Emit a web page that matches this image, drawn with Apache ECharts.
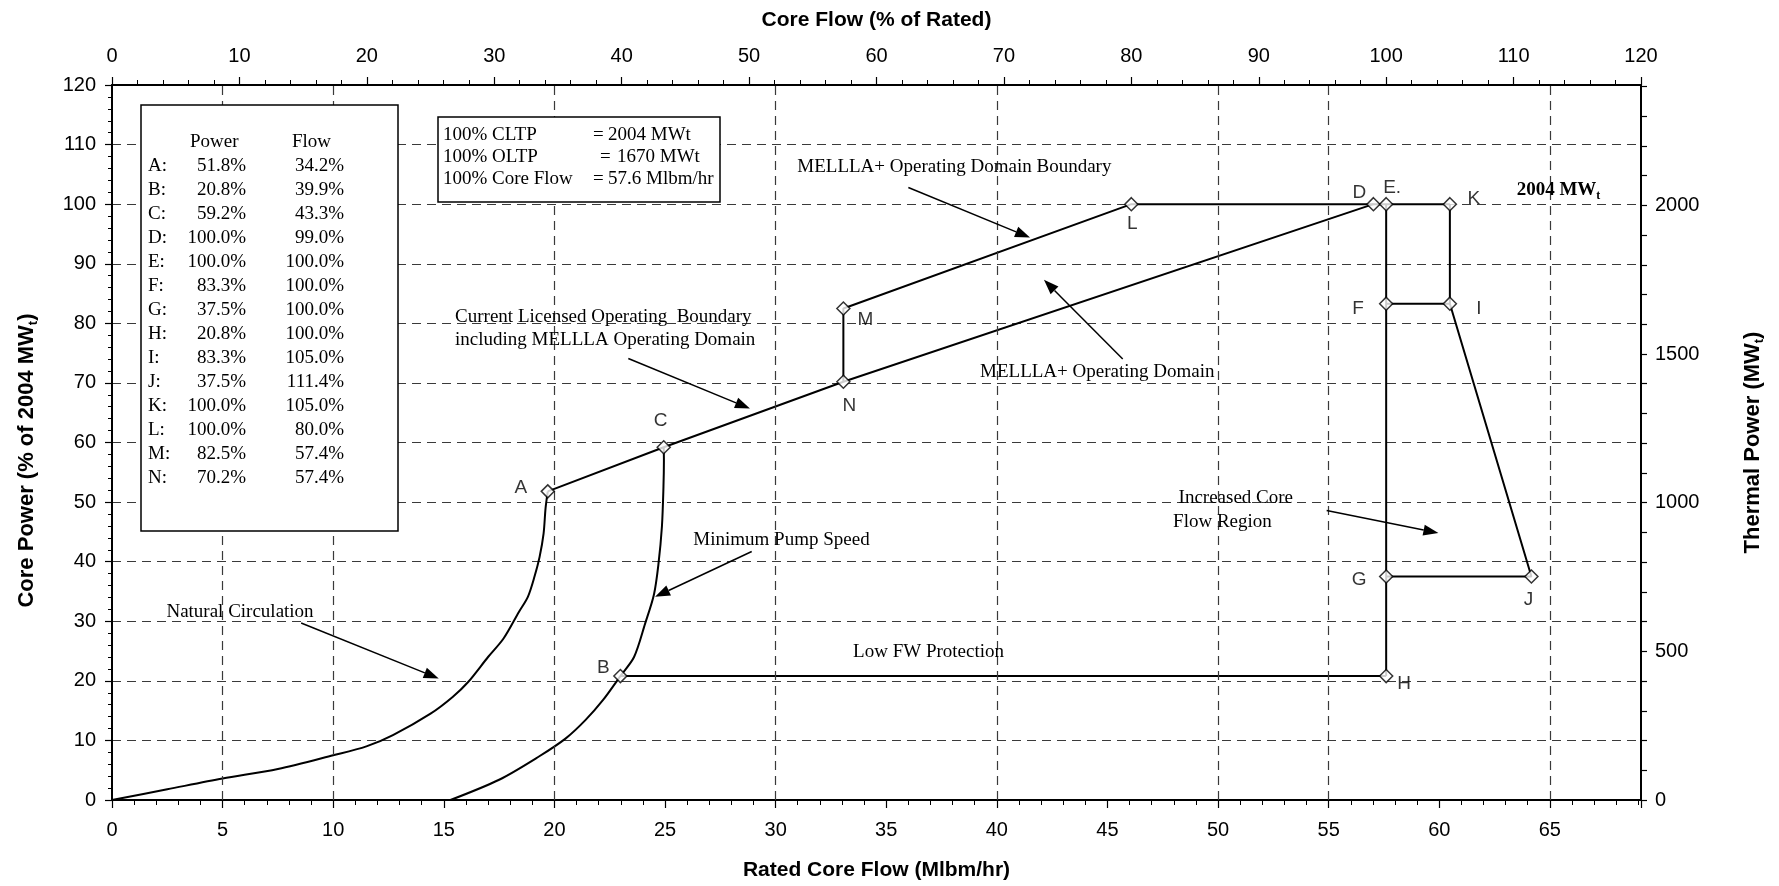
<!DOCTYPE html>
<html>
<head>
<meta charset="utf-8">
<title>MELLLA+ Power/Flow Map</title>
<script src="https://cdn.jsdelivr.net/npm/echarts@6/dist/echarts.min.js"></script>
<style>
  html, body { margin: 0; padding: 0; background: #fff; }
  #chart { width: 1779px; height: 886px; }
</style>
</head>
<body>
<div id="chart"></div>
<script>
// rated values
var ratedFlow = 57.6;   // Mlbm/hr at 100 % core flow
var cltpPower = 2004;   // MWt
var oltpPower = 1670;   // MWt

// state points from the table (power % of CLTP, flow % of rated)
var pointNames = ['A', 'B', 'C', 'D', 'E', 'F', 'G', 'H', 'I', 'J', 'K', 'L', 'M', 'N'];
var pointPower = [51.8, 20.8, 59.2, 100.0, 100.0, 83.3, 37.5, 20.8, 83.3, 37.5, 100.0, 100.0, 82.5, 70.2];
var pointFlow  = [34.2, 39.9, 43.3, 99.0, 100.0, 100.0, 100.0, 100.0, 105.0, 111.4, 105.0, 80.0, 57.4, 57.4];

// which state points are joined by straight boundary lines
var boundaryPaths = [
  ['A', 'C', 'N', 'D', 'E', 'K'],
  ['N', 'M', 'L', 'D'],
  ['E', 'F', 'G', 'H'],
  ['F', 'I', 'K'],
  ['I', 'J', 'G'],
  ['B', 'H']
];

// curves (flow Mlbm/hr, power %)
var natCircFlow  = [0, 2.5, 5, 7.5, 10, 11.5, 12.7, 14.4, 15.4, 16.1, 17.0, 17.7, 18.4, 18.8, 19.1, 19.33, 19.51, 19.6, 19.7];
var natCircPower = [0, 1.8, 3.6, 5.2, 7.5, 9.0, 10.9, 14.5, 17.3, 19.8, 24.0, 27.1, 31.6, 34.1, 37.5, 40.8, 44.7, 49.0, 51.8];
var minPumpFlow  = [15.3, 17.5, 19.3, 20.5, 21.4, 22.2, 22.98, 23.6, 24.1, 24.5, 24.7, 24.86, 24.93, 24.95, 24.94];
var minPumpPower = [0, 3.4, 7.3, 10.3, 13.4, 16.8, 20.8, 24.0, 29.6, 34.5, 39.5, 45.9, 52.6, 57.0, 59.2];

// dashed vertical grid lines that show on the sheet (Mlbm/hr)
var flowGridLines = [5, 10, 20, 30, 40, 50, 55, 65];

// point label placement (px from the marker)
var labelOffsets = {
  A: [-27, -4], B: [-17, -8], C: [-3, -27], D: [-14, -11], E: [6, -16],
  F: [-28, 5], G: [-27, 3], H: [18, 8], I: [29, 5], J: [-3, 23],
  K: [24, -5], L: [1, 20], M: [22, 11], N: [6, 24]
};
var labelText = { E: 'E.' };

// annotations, in bottom/left axis units
var notes = [
  { text: 'MELLLA+ Operating Domain Boundary', at: [30.98, 106.2], align: 'left' },
  { text: 'MELLLA+ Operating Domain', at: [39.24, 71.8], align: 'left' },
  { text: 'Current Licensed Operating  Boundary', at: [15.51, 81.1], align: 'left' },
  { text: 'including MELLLA Operating Domain', at: [15.51, 77.2], align: 'left' },
  { text: 'Minimum Pump Speed', at: [26.28, 43.6], align: 'left' },
  { text: 'Natural Circulation', at: [2.46, 31.6], align: 'left' },
  { text: 'Low FW Protection', at: [33.5, 24.8], align: 'left' },
  { text: 'Increased Core', at: [53.39, 50.7], align: 'right' },
  { text: 'Flow Region', at: [52.43, 46.7], align: 'right' }
];
var arrows = [
  [[36.0, 102.8], [41.5, 94.4]],
  [[45.69, 74.0], [42.13, 87.3]],
  [[23.34, 74.1], [28.84, 65.7]],
  [[28.92, 41.7], [24.55, 34.1]],
  [[8.55, 29.7], [14.77, 20.4]],
  [[54.91, 48.6], [59.96, 44.8]]
];

var serif = '"Liberation Serif", "Times New Roman", serif';
var sans = '"Liberation Sans", Arial, sans-serif';

function pointData(name) {
  var i = pointNames.indexOf(name);
  return [pointFlow[i], pointPower[i]];
}
function zip(xs, ys) {
  return xs.map(function (x, i) { return [x, ys[i]]; });
}

var dash = { color: '#3a3a3a', width: 1.2, type: [9, 6] };
var axisLine = { show: true, onZero: false, lineStyle: { color: '#000', width: 2 } };
var tickLabel = { color: '#000', fontFamily: sans, fontSize: 20 };
function nameStyle(size, padding) {
  return {
    color: '#000', fontFamily: sans, fontSize: size, fontWeight: 'bold', padding: padding || 0,
    rich: {
      n: { color: '#000', fontFamily: sans, fontSize: size, fontWeight: 'bold', lineHeight: size + 5, verticalAlign: 'middle' },
      s: { color: '#000', fontFamily: sans, fontSize: 13, fontWeight: 'bold', lineHeight: 13, verticalAlign: 'bottom' }
    }
  };
}

var series = [];
boundaryPaths.forEach(function (path) {
  series.push({
    type: 'line', xAxisIndex: 1, yAxisIndex: 0,
    data: path.map(pointData),
    symbol: 'none', lineStyle: { color: '#000', width: 2 }, z: 3
  });
});
series.push({
  type: 'line', xAxisIndex: 0, yAxisIndex: 0,
  data: zip(natCircFlow, natCircPower), smooth: 0.3,
  symbol: 'none', lineStyle: { color: '#000', width: 2 }, z: 3,
  markLine: {
    silent: true, symbol: ['none', 'none'], label: { show: false },
    lineStyle: dash, emphasis: { disabled: true },
    data: flowGridLines.map(function (v) { return { xAxis: v }; })
  }
});
series.push({
  type: 'line', xAxisIndex: 0, yAxisIndex: 0,
  data: zip(minPumpFlow, minPumpPower), smooth: 0.3,
  symbol: 'none', lineStyle: { color: '#000', width: 2 }, z: 3
});
series.push({
  type: 'scatter', xAxisIndex: 1, yAxisIndex: 0, z: 5,
  symbol: 'diamond', symbolSize: 13,
  itemStyle: { color: '#fff', borderColor: '#000', borderWidth: 1.5 },
  label: { show: true, position: 'inside', color: '#000', fontFamily: sans, fontSize: 19 },
  data: pointNames.map(function (n, i) {
    return {
      name: n, value: [pointFlow[i], pointPower[i]],
      label: { offset: labelOffsets[n], formatter: labelText[n] || n }
    };
  })
});

var chart = echarts.init(document.getElementById('chart'));
chart.setOption({
  animation: false,
  backgroundColor: '#fff',
  grid: { left: 112, right: 138, top: 85, bottom: 86 },
  xAxis: [
    {
      type: 'value', position: 'bottom', min: 0, max: ratedFlow * 1.2, interval: 5,
      name: 'Rated Core Flow (Mlbm/hr)', nameLocation: 'middle', nameGap: 60,
      nameTextStyle: nameStyle(21),
      axisLine: axisLine,
      axisTick: { show: true, length: 8, lineStyle: { color: '#000', width: 1.2 } },
      minorTick: { show: true, splitNumber: 5, length: 5, lineStyle: { color: '#000', width: 1 } },
      axisLabel: Object.assign({ margin: 20, showMaxLabel: false }, tickLabel),
      splitLine: { show: false }
    },
    {
      type: 'value', position: 'top', min: 0, max: 120, interval: 10,
      name: 'Core Flow (% of Rated)', nameLocation: 'middle', nameGap: 54,
      nameTextStyle: nameStyle(21),
      axisLine: axisLine,
      axisTick: { show: true, length: 8, lineStyle: { color: '#000', width: 1.2 } },
      minorTick: { show: true, splitNumber: 5, length: 5, lineStyle: { color: '#000', width: 1 } },
      axisLabel: Object.assign({ margin: 19 }, tickLabel),
      splitLine: { show: false }
    }
  ],
  yAxis: [
    {
      type: 'value', position: 'left', min: 0, max: 120, interval: 10,
      name: '{n|Core Power (% of 2004 MW}{s|t}{n|)}', nameLocation: 'middle', nameGap: 72,
      nameTextStyle: nameStyle(22, [0, 36, 0, 0]),
      axisLine: axisLine,
      axisTick: { show: true, length: 7, lineStyle: { color: '#000', width: 1.2 } },
      minorTick: { show: true, splitNumber: 5, length: 4, lineStyle: { color: '#000', width: 1 } },
      axisLabel: Object.assign({ margin: 16 }, tickLabel),
      splitLine: { show: true, lineStyle: dash }
    },
    {
      type: 'value', position: 'right', min: 0, max: cltpPower * 1.2, interval: 100,
      name: '{n|Thermal Power (MW}{s|t}{n|)}', nameLocation: 'middle', nameGap: 98,
      nameTextStyle: nameStyle(22),
      axisLine: axisLine,
      axisTick: { show: true, length: 6, lineStyle: { color: '#000', width: 1.2 } },
      axisLabel: Object.assign({
        margin: 14, showMaxLabel: false,
        formatter: function (v) { return v % 500 === 0 ? String(v) : ''; }
      }, tickLabel),
      splitLine: { show: false }
    }
  ],
  series: series
});

// annotations and boxes, placed through the axes
function px(p) { return chart.convertToPixel({ xAxisIndex: 0, yAxisIndex: 0 }, p); }

var g = [];
notes.forEach(function (n) {
  var p = px(n.at);
  g.push({
    type: 'text', x: p[0], y: p[1], z: 20,
    style: { text: n.text, fill: '#000', fontFamily: serif, fontSize: 19, align: n.align, verticalAlign: 'middle' }
  });
});
arrows.forEach(function (a) {
  var s = px(a[0]), e = px(a[1]);
  var dx = e[0] - s[0], dy = e[1] - s[1], len = Math.sqrt(dx * dx + dy * dy);
  var ux = dx / len, uy = dy / len, hl = 15, hw = 5.5;
  var bx = e[0] - ux * hl, by = e[1] - uy * hl;
  g.push({
    type: 'line', z: 20,
    shape: { x1: s[0], y1: s[1], x2: bx, y2: by },
    style: { stroke: '#000', lineWidth: 1.5 }
  });
  g.push({
    type: 'polygon', z: 20,
    shape: { points: [[e[0], e[1]], [bx - uy * hw, by + ux * hw], [bx + uy * hw, by - ux * hw]] },
    style: { fill: '#000' }
  });
});

// "2004 MWt" tag on the 100 % line
var tag = px([63.5, 102.4]);
g.push({
  type: 'text', x: tag[0], y: tag[1], z: 20,
  style: {
    text: '{n|' + cltpPower + ' MW}{s|t}',
    rich: {
      n: { fill: '#000', fontFamily: serif, fontSize: 19, fontWeight: 'bold', lineHeight: 24, verticalAlign: 'middle' },
      s: { fill: '#000', fontFamily: serif, fontSize: 12, fontWeight: 'bold', lineHeight: 12, verticalAlign: 'bottom' }
    },
    align: 'left', verticalAlign: 'middle'
  }
});

// state point table
var tbl = { x: 141, y: 105, w: 257, h: 426, head: 142, row0: 166, step: 24 };
g.push({ type: 'rect', z: 18, shape: { x: tbl.x, y: tbl.y, width: tbl.w, height: tbl.h },
  style: { fill: '#fff', stroke: '#000', lineWidth: 1.5 } });
function cell(text, x, y, align) {
  g.push({ type: 'text', x: x, y: y, z: 20,
    style: { text: text, fill: '#000', fontFamily: serif, fontSize: 19, align: align, verticalAlign: 'middle' } });
}
cell('Power', 190, tbl.head, 'left');
cell('Flow', 292, tbl.head, 'left');
pointNames.forEach(function (n, i) {
  var y = tbl.row0 + i * tbl.step;
  cell(n + ':', 148, y, 'left');
  cell(pointPower[i].toFixed(1) + '%', 246, y, 'right');
  cell(pointFlow[i].toFixed(1) + '%', 344, y, 'right');
});

// rated values box
g.push({ type: 'rect', z: 18, shape: { x: 438, y: 117, width: 282, height: 85 },
  style: { fill: '#fff', stroke: '#000', lineWidth: 1.5 } });
var info = [
  ['100% CLTP', cltpPower + ' MWt', 593, 608],
  ['100% OLTP', oltpPower + ' MWt', 600, 617],
  ['100% Core Flow', ratedFlow + ' Mlbm/hr', 593, 608]
];
info.forEach(function (r, i) {
  var y = 135 + i * 22;
  cell(r[0], 443, y, 'left');
  cell('=', r[2], y, 'left');
  cell(r[1], r[3], y, 'left');
});

chart.setOption({ graphic: g });
</script>
</body>
</html>
